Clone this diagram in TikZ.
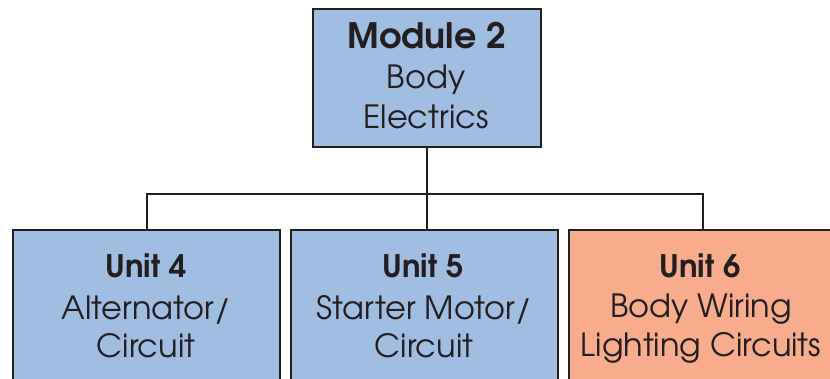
\documentclass[tikz,border=0pt]{standalone}
\usepackage{fontspec}
\setmainfont{texgyreadventor}[Extension=.otf,UprightFont=*-regular,BoldFont=*-bold]
\definecolor{boxblue}{RGB}{160,190,225}
\definecolor{boxorange}{RGB}{247,172,140}
\definecolor{ink}{RGB}{35,31,32}
\begin{document}
\begin{tikzpicture}[x=1pt,y=-1pt,
  box/.style={draw=ink,line width=2.2pt,fill=boxblue,inner sep=0pt,anchor=north west},
  txt/.style={text=ink,inner sep=0pt,anchor=base,font=\fontsize{32}{38}\selectfont},
  btxt/.style={txt,font=\fontsize{31}{38}\selectfont\bfseries},
  link/.style={draw=ink,line width=2.2pt}]
\useasboundingbox (0,0) rectangle (830,378);
\clip (0,0) rectangle (830,378);
\node[box,minimum width=228pt,minimum height=138pt] (m) at (312,8) {};
\node[box,minimum width=267pt,minimum height=200pt] (u4) at (12,229) {};
\node[box,minimum width=267pt,minimum height=200pt] (u5) at (290,229) {};
\node[box,fill=boxorange,minimum width=268pt,minimum height=200pt] (u6) at (568,229) {};
\coordinate (bus) at (426,194);
\draw[link] (m.south) -- (u5.north -| m.south);
\draw[link] (u4.north) |- (bus) -| (u6.north);
\node[btxt,font=\fontsize{35}{38}\selectfont\bfseries] (m1) at (427,48) {Module 2};
\node[txt] (m2) at (426,88) {Body};
\node[txt] (m3) at (426,128) {Electrics};
\node[btxt] (a1) at (146,277) {Unit 4};
\node[txt] (a2) at (146,319) {Alternator/};
\node[txt] (a3) at (146,357) {Circuit};
\node[btxt] (b1) at (423,277) {Unit 5};
\node[txt] (b2) at (424,319) {Starter Motor/};
\node[txt] (b3) at (424,357) {Circuit};
\node[btxt] (c1) at (700,277) {Unit 6};
\node[txt] (c2) at (701,317) {Body Wiring};
\node[txt] (c3) at (701,356) {Lighting Circuits};
\end{tikzpicture}
\end{document}
